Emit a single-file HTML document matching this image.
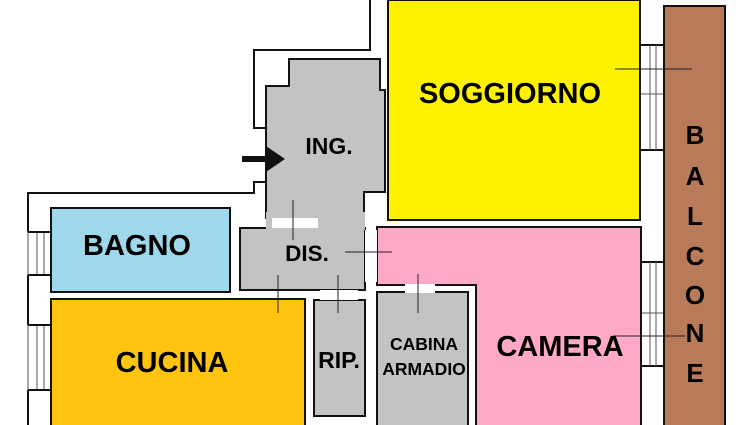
<!DOCTYPE html>
<html><head><meta charset="utf-8"><style>
html,body{margin:0;padding:0;background:#fff;width:750px;height:425px;overflow:hidden}
text{font-family:"Liberation Sans",Arial,sans-serif;font-weight:bold;fill:#000}
</style></head><body>
<svg width="750" height="425" viewBox="0 0 750 425" xmlns="http://www.w3.org/2000/svg">
<rect width="750" height="425" fill="#fff"/>
<g fill="none" stroke="#111" stroke-width="2">
<polyline points="370,0 370,50 254,50 254,128 266,128"/>
<polyline points="266,182 254,182 254,193 28,193 28,232"/>
<line x1="28" y1="275" x2="28" y2="325"/>
<line x1="28" y1="390" x2="28" y2="425"/>
<polyline points="640,45 664,45"/>
<polyline points="640,150 664,150"/>
<polyline points="640,262 664,262"/>
<polyline points="640,366 664,366"/>
</g>
<g stroke="#555" stroke-width="1">
<line x1="28" y1="232" x2="28" y2="275"/><line x1="37" y1="232" x2="37" y2="275"/><line x1="44" y1="232" x2="44" y2="275"/>
<line x1="28" y1="325" x2="28" y2="390"/><line x1="37" y1="325" x2="37" y2="390"/><line x1="44" y1="325" x2="44" y2="390"/>
<line x1="650" y1="45" x2="650" y2="150"/><line x1="656" y1="45" x2="656" y2="150"/><line x1="640" y1="94" x2="664" y2="94"/>
<line x1="650" y1="262" x2="650" y2="366"/><line x1="656" y1="262" x2="656" y2="366"/><line x1="640" y1="313" x2="664" y2="313"/>
</g>
<g stroke="#111" stroke-width="2" fill="none">
<line x1="28" y1="232" x2="51" y2="232"/><line x1="28" y1="275" x2="51" y2="275"/>
<line x1="28" y1="325" x2="51" y2="325"/><line x1="28" y1="390" x2="51" y2="390"/>
</g>
<rect x="388" y="0" width="252" height="220" fill="#fff200" stroke="#111" stroke-width="2"/>
<rect x="664" y="6" width="61" height="425" fill="#b87a58" stroke="#111" stroke-width="2"/>
<polygon points="377,227 641,227 641,426 476,426 476,285 377,285" fill="#ffa8c8" stroke="#111" stroke-width="2"/>
<polygon points="266,86 289,86 289,59 380,59 380,90 385,90 385,192 364,192 364,218 266,218" fill="#c3c3c3" stroke="#111" stroke-width="2"/>
<rect x="240" y="228" width="125" height="62" fill="#c3c3c3" stroke="#111" stroke-width="2"/>
<rect x="266" y="212" width="99" height="18" fill="#c3c3c3"/>
<rect x="272" y="218" width="46" height="10" fill="#fff"/>
<rect x="365" y="230" width="12" height="52" fill="#fff"/>
<rect x="51" y="208" width="179" height="84" fill="#9ed8ea" stroke="#111" stroke-width="2"/>
<rect x="51" y="299" width="254" height="130" fill="#ffc40f" stroke="#111" stroke-width="2"/>
<rect x="314" y="300" width="51" height="116" fill="#c3c3c3" stroke="#111" stroke-width="2"/>
<rect x="377" y="292" width="91" height="140" fill="#c3c3c3" stroke="#111" stroke-width="2"/>
<rect x="320" y="290" width="38" height="10" fill="#fff"/>
<rect x="405" y="284" width="30" height="9" fill="#fff"/>
<g stroke="#222" stroke-width="1">
<line x1="293" y1="200" x2="293" y2="240"/>
<line x1="345" y1="252" x2="392" y2="252"/>
<line x1="278" y1="275" x2="278" y2="313"/>
<line x1="338" y1="275" x2="338" y2="313"/>
<line x1="418" y1="274" x2="418" y2="313"/>
<line x1="615" y1="69" x2="692" y2="69"/>
<line x1="613" y1="336" x2="685" y2="336"/>
</g>
<line x1="242" y1="159" x2="267" y2="159" stroke="#111" stroke-width="6"/>
<polygon points="266,146 285,159 266,172" fill="#111"/>
<text x="510" y="103" font-size="29" text-anchor="middle">SOGGIORNO</text>
<text x="329" y="154" font-size="23" text-anchor="middle">ING.</text>
<text x="137" y="255" font-size="29" text-anchor="middle">BAGNO</text>
<text x="307" y="261" font-size="22.5" text-anchor="middle">DIS.</text>
<text x="172" y="372" font-size="29" text-anchor="middle">CUCINA</text>
<text x="339" y="368" font-size="23" text-anchor="middle">RIP.</text>
<text x="424" y="350" font-size="17.5" text-anchor="middle">CABINA</text>
<text x="424" y="375" font-size="17.5" text-anchor="middle">ARMADIO</text>
<text x="560" y="356" font-size="29" text-anchor="middle">CAMERA</text>
<g font-size="26" text-anchor="middle">
<text x="695" y="144">B</text><text x="695" y="185">A</text><text x="695" y="225">L</text>
<text x="695" y="265">C</text><text x="695" y="304">O</text><text x="695" y="342">N</text><text x="695" y="382">E</text>
</g>
</svg>
</body></html>
